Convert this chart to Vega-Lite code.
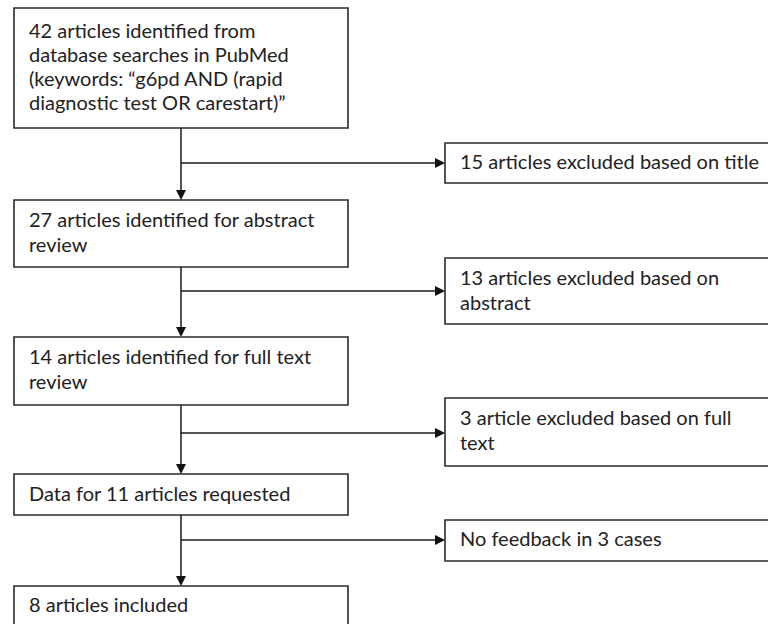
{
  "$schema": "https://vega.github.io/schema/vega-lite/v6.json",
  "width": 768,
  "height": 624,
  "padding": 0,
  "autosize": {"type": "fit", "contains": "padding"},
  "background": "white",
  "config": {"view": {"stroke": null}, "axis": {"disable": true}},
  "datasets": {
    "boxes": [
      {"id": "b1", "x": 14, "x2": 348, "y": 8, "y2": 128},
      {"id": "b2", "x": 14, "x2": 348, "y": 200, "y2": 267},
      {"id": "b3", "x": 14, "x2": 348, "y": 337, "y2": 405},
      {"id": "b4", "x": 14, "x2": 348, "y": 474, "y2": 515},
      {"id": "b5", "x": 14, "x2": 348, "y": 586, "y2": 640},
      {"id": "r1", "x": 445, "x2": 780, "y": 143, "y2": 183},
      {"id": "r2", "x": 445, "x2": 780, "y": 258, "y2": 324},
      {"id": "r3", "x": 445, "x2": 780, "y": 398, "y2": 466},
      {"id": "r4", "x": 445, "x2": 780, "y": 520, "y2": 561}
    ],
    "labels": [
      {"x": 29, "y": 32, "text": "42 articles identified from"},
      {"x": 29, "y": 56, "text": "database searches in PubMed"},
      {"x": 29, "y": 80, "text": "(keywords: “g6pd AND (rapid"},
      {"x": 29, "y": 104, "text": "diagnostic test OR carestart)”"},
      {"x": 29, "y": 221, "text": "27 articles identified for abstract"},
      {"x": 29, "y": 246, "text": "review"},
      {"x": 29, "y": 358, "text": "14 articles identified for full text"},
      {"x": 29, "y": 383, "text": "review"},
      {"x": 29, "y": 495, "text": "Data for 11 articles requested"},
      {"x": 29, "y": 606, "text": "8 articles included"},
      {"x": 460, "y": 163, "text": "15 articles excluded based on title"},
      {"x": 460, "y": 279, "text": "13 articles excluded based on"},
      {"x": 460, "y": 304, "text": "abstract"},
      {"x": 460, "y": 419, "text": "3 article excluded based on full"},
      {"x": 460, "y": 444, "text": "text"},
      {"x": 460, "y": 540, "text": "No feedback in 3 cases"}
    ],
    "lines": [
      {"x": 181, "x2": 181, "y": 128, "y2": 196},
      {"x": 181, "x2": 181, "y": 267, "y2": 333},
      {"x": 181, "x2": 181, "y": 405, "y2": 470},
      {"x": 181, "x2": 181, "y": 515, "y2": 582},
      {"x": 181, "x2": 441, "y": 163, "y2": 163},
      {"x": 181, "x2": 441, "y": 291, "y2": 291},
      {"x": 181, "x2": 441, "y": 433, "y2": 433},
      {"x": 181, "x2": 441, "y": 540, "y2": 540}
    ],
    "downArrows": [
      {"x": 181, "y": 200},
      {"x": 181, "y": 337},
      {"x": 181, "y": 474},
      {"x": 181, "y": 586}
    ],
    "rightArrows": [
      {"x": 445, "y": 163},
      {"x": 445, "y": 291},
      {"x": 445, "y": 433},
      {"x": 445, "y": 540}
    ]
  },
  "layer": [
    {
      "data": {"name": "boxes"},
      "mark": {"type": "rect", "fill": "white", "stroke": "#2a2a2a", "strokeWidth": 1.6, "clip": true},
      "encoding": {
        "x": {"field": "x", "type": "quantitative", "scale": {"domain": [0, 768], "nice": false, "zero": false}, "axis": null},
        "x2": {"field": "x2"},
        "y": {"field": "y", "type": "quantitative", "scale": {"domain": [0, 624], "reverse": true, "nice": false, "zero": false}, "axis": null},
        "y2": {"field": "y2"}
      }
    },
    {
      "data": {"name": "lines"},
      "mark": {"type": "rule", "stroke": "#1a1a1a", "strokeWidth": 1.5},
      "encoding": {
        "x": {"field": "x", "type": "quantitative"},
        "x2": {"field": "x2"},
        "y": {"field": "y", "type": "quantitative"},
        "y2": {"field": "y2"}
      }
    },
    {
      "data": {"name": "downArrows"},
      "mark": {"type": "point", "shape": "M -1 -2 L 1 -2 L 0 0 Z", "filled": true, "fill": "#111", "stroke": null, "size": 100, "opacity": 1},
      "encoding": {
        "x": {"field": "x", "type": "quantitative"},
        "y": {"field": "y", "type": "quantitative"}
      }
    },
    {
      "data": {"name": "rightArrows"},
      "mark": {"type": "point", "shape": "M -2 -1 L -2 1 L 0 0 Z", "filled": true, "fill": "#111", "stroke": null, "size": 100, "opacity": 1},
      "encoding": {
        "x": {"field": "x", "type": "quantitative"},
        "y": {"field": "y", "type": "quantitative"}
      }
    },
    {
      "data": {"name": "labels"},
      "mark": {"type": "text", "align": "left", "baseline": "middle", "font": "Lato", "fontSize": 20, "fill": "#222"},
      "encoding": {
        "x": {"field": "x", "type": "quantitative"},
        "y": {"field": "y", "type": "quantitative"},
        "text": {"field": "text"}
      }
    }
  ]
}
